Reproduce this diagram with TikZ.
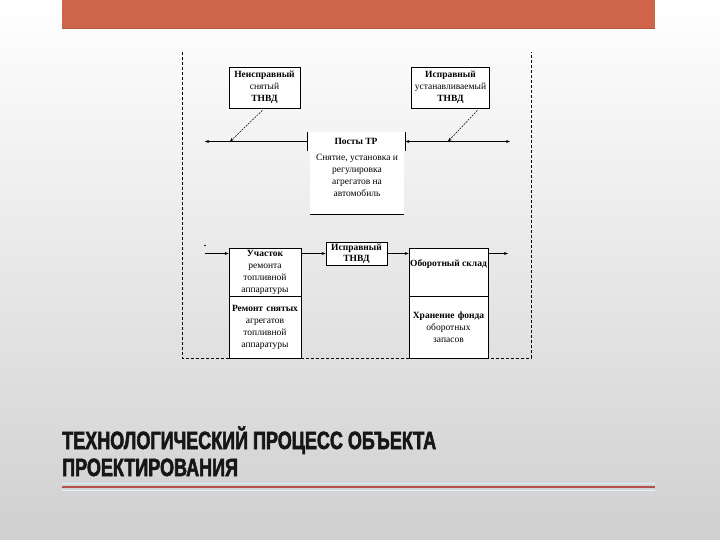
\documentclass[tikz,border=0pt]{standalone}
\usepackage{fontspec}
\setmainfont{Liberation Serif}
\newfontfamily\titlefont[FakeStretch=0.72,FakeBold=2.2]{Liberation Sans}
\usetikzlibrary{arrows.meta}
\definecolor{barcol}{HTML}{CF6548}
\definecolor{bgbot}{HTML}{D0D0D0}
\definecolor{linecol}{HTML}{B5504B}
\definecolor{titlecol}{HTML}{161616}
\tikzset{
  box/.style={draw, line width=0.6pt, fill=white, inner sep=1pt, align=center,
    font=\fontsize{9.5}{12}\selectfont},
  flow/.style={line width=0.6pt, -{Stealth[length=4pt,width=3pt]}},
  flowboth/.style={line width=0.6pt, {Stealth[length=4pt,width=3pt]}-{Stealth[length=4pt,width=3pt]}},
  dasharrow/.style={line width=0.5pt, dash pattern=on 2pt off 1pt, -{Stealth[length=4pt,width=3pt]}},
  frame/.style={line width=0.6pt, dash pattern=on 3pt off 2pt},
  titletext/.style={anchor=base west, inner sep=0pt, text=titlecol,
    font=\titlefont\bfseries\fontsize{25}{27}\selectfont}
}
\begin{document}
\begin{tikzpicture}[x=1pt,y=-1pt]
\useasboundingbox (0,0) rectangle (720,540);
\shade[top color=white, bottom color=bgbot] (0,0) rectangle (720,540);
\fill[barcol] (62,0) rectangle (655,29);
\draw[barcol!85!black, line width=0.8pt] (62,28.5) -- (655,28.5);

% dashed frame
\draw[frame] (182,52) -- (182,358) -- (531,358) -- (531,52);

% top boxes
\node[box, minimum width=71pt, minimum height=41pt, text width=69pt] (n1) at (264.5,87.5)
  {\textbf{Неисправный}\\снятый\\\textbf{ТНВД}};
\node[box, minimum width=77pt, minimum height=41pt, text width=77pt, inner sep=0.5pt] (n2) at (450.5,87.5)
  {\textbf{Исправный}\\устанавливаемый\\\textbf{ТНВД}};

% posts
\node[fill=white, minimum width=98pt, minimum height=19pt, inner sep=0pt,
  font=\bfseries\fontsize{9.5}{12}\selectfont] (posts) at (356,141.5) {Посты ТР};
\draw[line width=0.6pt] (posts.north west) -- (posts.south west);
\draw[line width=0.6pt] (posts.north east) -- (posts.south east);
\node[fill=white, minimum width=94pt, minimum height=63pt, inner sep=0pt, align=center,
  font=\fontsize{9.5}{12.3}\selectfont] (snyat) at (357,182.5)
  {Снятие, установка и\\регулировка\\агрегатов на\\автомобиль\\[2pt]};
\draw[line width=0.6pt] (snyat.south west) -- (snyat.south east);

\coordinate (L1) at (205,141.5);
\coordinate (R1) at (510,141.5);
\coordinate (a1) at (230,141.5);
\coordinate (a2) at (448,141.5);
\draw[flow] (posts.west) -- (L1);
\draw[flowboth] (posts.east) -- (R1);
\draw[dasharrow] (n1.south) ++(-2,2) coordinate (d1) (d1) -- (a1);
\draw[dasharrow] (n2.south) ++(27,2) coordinate (d2) (d2) -- (a2);

% bottom row
\node[box, minimum width=72pt, minimum height=48pt, text width=70pt] (uch) at (265,272)
  {\textbf{Участок}\\ремонта\\топливной\\аппаратуры};
\node[box, minimum width=72pt, minimum height=62pt, text width=72pt, inner sep=0pt] (rem) at (265,327)
  {\textbf{Ремонт снятых}\\агрегатов\\топливной\\аппаратуры};
\node[box, minimum width=61pt, minimum height=23pt, text width=59pt,
  font=\bfseries\fontsize{9.5}{11}\selectfont] (isp) at (356.5,253.5)
  {Исправный\\ТНВД};
\node[box, anchor=north, minimum width=79pt, inner xsep=0pt, inner ysep=4pt,
  text height=14pt, text depth=26pt, font=\bfseries\fontsize{9.5}{12}\selectfont] (obor) at (448.5,248)
  {Оборотный склад};
\node[box, minimum width=79pt, minimum height=62pt, text width=77pt] (hran) at (448.5,327)
  {\textbf{Хранение фонда}\\оборотных\\запасов};

\coordinate (LB) at (205,253.5);
\coordinate (RB) at (508,253.5);
\fill (205,245.5) circle (0.9pt);
\draw[flow] (LB) -- (LB -| uch.west);
\draw[flow] (uch.east |- isp.west) -- (isp.west);
\draw[flow] (isp.east) -- (isp.east -| obor.west);
\draw[flow] (obor.east |- RB) -- (RB);

% title
\node[titletext] (t1) at (62,449) {ТЕХНОЛОГИЧЕСКИЙ ПРОЦЕСС ОБЪЕКТА};
\node[titletext] (t2) at (62,476) {ПРОЕКТИРОВАНИЯ};
\draw[cyan!15, line width=0.6pt] (62,483) -- (655,483);
\draw[linecol, line width=2pt] (62,486.5) -- (655,486.5);
\draw[cyan!12, line width=0.6pt] (62,490) -- (655,490);
\end{tikzpicture}
\end{document}
